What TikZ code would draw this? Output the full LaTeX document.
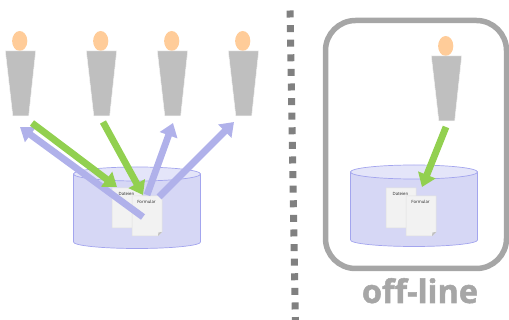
\documentclass[tikz,border=0pt]{standalone}
\usepackage{fontspec}
\setmainfont{Open Sans}
\newfontface\offfont[FakeBold=1.6]{Open Sans Bold}
\usetikzlibrary{arrows.meta}
\definecolor{skin}{HTML}{FFCC99}
\definecolor{body}{HTML}{BFBFBF}
\definecolor{cylf}{HTML}{D6D7F5}
\definecolor{cylt}{HTML}{E4E5F9}
\definecolor{cyle}{HTML}{A3A5EE}
\definecolor{blu}{HTML}{B0B1EA}
\definecolor{grn}{HTML}{92D050}
\definecolor{frm}{HTML}{A6A6A6}
\definecolor{dotc}{HTML}{808080}
\definecolor{docf}{HTML}{F2F2F2}
\tikzset{x=1pt,y=-1pt,
 headst/.style={fill=skin,draw=none},
 bodyst/.style={fill=body,draw=white!85!body,line width=.5pt},
 cylst/.style={fill=cylf,draw=cyle,line width=.7pt},
 cyltop/.style={fill=cylt,draw=cyle,line width=.7pt},
 docst/.style={fill=docf,draw=black!12,line width=.5pt},
 foldst/.style={fill=black!25,draw=none},
 doctxt/.style={font=\fontsize{4.3}{5}\selectfont,text=black!85,inner sep=0pt},
 garrow/.style={draw=grn,line width=6.8pt,-{Triangle[length=13pt,width=18pt]}},
 barrow/.style={draw=blu,line width=6.8pt,-{Triangle[length=13pt,width=18pt]}}}
\newcommand{\person}[3]{%
 \fill[headst] (#1-.3,#2-10) ellipse [x radius=7.6,y radius=10];
 \draw[bodyst] (#1-14.7,#2) -- (#1+15.7,#2) -- (#1+8.7,#2+65) -- (#1-7.2,#2+65) -- cycle;
 \coordinate (#3) at (#1,#2);}
\newcommand{\drum}[3]{%
 \draw[cylst] (#1-63.5,#2) -- (#1-63.5,#2+68) arc [start angle=180,end angle=0,x radius=63.5,y radius=6.5] -- (#1+63.5,#2) -- cycle;
 \draw[cyltop] (#1,#2) ellipse [x radius=63.5,y radius=7];
 \coordinate (#3) at (#1,#2);}
\newcommand{\paper}[4]{%
 \draw[docst] (#1,#2) -- (#1+30,#2) -- (#1+30,#2+36) -- (#1+26,#2+40) -- (#1,#2+40) -- cycle;
 \fill[foldst] (#1+30,#2+36) -- (#1+26.5,#2+36.5) -- (#1+26,#2+40) -- cycle;
 \node[doctxt] (#4) at (#1+14.5,#2+5.5) {#3};}
\begin{document}
\begin{tikzpicture}
\useasboundingbox (0,0) rectangle (509,320);
\person{20}{51}{pa}
\person{101}{51}{pb}
\person{172}{51}{pc}
\person{243}{51}{pd}
\person{446}{56}{pe}
\drum{137}{174}{da}
\paper{112}{188}{Dateien}{d1}
\paper{132}{196}{Formular}{d2}
\drum{414}{172}{db}
\paper{386}{188}{Dateien}{d3}
\paper{406}{196}{Formular}{d4}
\coordinate (a1) at (143,217); \coordinate (a1e) at (20,127);
\coordinate (a2) at (32,123); \coordinate (a2e) at (117,187);
\coordinate (a3) at (103,122); \coordinate (a3e) at (143,195);
\coordinate (a4) at (147,195); \coordinate (a4e) at (173,123);
\coordinate (a5) at (159,197); \coordinate (a5e) at (234,122);
\coordinate (a6) at (446,127); \coordinate (a6e) at (422,187);
\draw[barrow] (a1) -- (a1e);
\draw[barrow] (a4) -- (a4e);
\draw[barrow] (a5) -- (a5e);
\draw[garrow] (a2) -- (a2e);
\draw[garrow] (a3) -- (a3e);
\draw[garrow] (a6) -- (a6e);
\draw[frm,line width=5.5pt,rounded corners=30pt] (325.5,20.5) rectangle (506.5,268.5);
\coordinate (ls) at (290,10.5); \coordinate (le) at (295.4,325);
\draw[dotc,line width=7pt,dash pattern=on 7pt off 7.6pt] (ls) -- (le);
\node[font=\fontsize{32.5}{33}\offfont,text=frm,inner sep=0pt,anchor=base] (off) at (420,303) {off-line};
\end{tikzpicture}
\end{document}
